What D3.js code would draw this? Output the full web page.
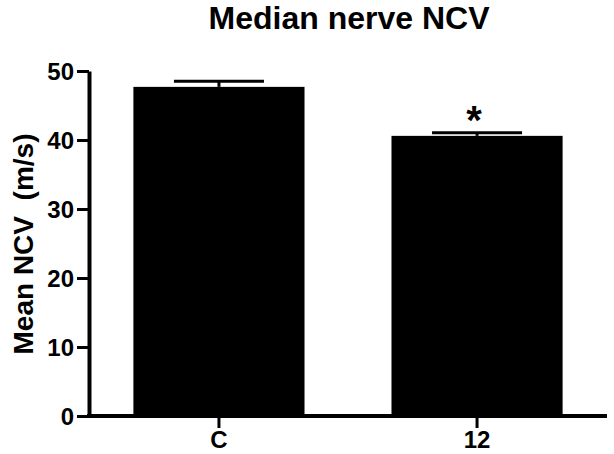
<!DOCTYPE html>
<html>
<head>
<meta charset="utf-8">
<script src="https://cdn.jsdelivr.net/npm/d3@7"></script>
<style>
	html, body { margin:0; padding:0; background:#ffffff; }
	svg { display:block; font-family:"Liberation Sans", Arial, sans-serif; }
</style>
</head>
<body>
<div id="chart"></div>
<script>
// Data
var categories = ['C', '12'];
var means = [47.7, 40.6];
var sems = [0.8, 0.45];
var significant = [false, true];
var yTicks = [0, 10, 20, 30, 40, 50];

var width = 614, height = 454;
var plotLeft = 89, plotRight = 607, plotTop = 71, plotBottom = 416;

var svg = d3.select('#chart')
	.append('svg')
	.attr('width', width)
	.attr('height', height);

var x = d3.scaleBand()
	.domain(categories)
	.range([plotLeft, plotRight])
	.paddingInner(0.337)
	.paddingOuter(0.172);

var y = d3.scaleLinear()
	.domain([0, 50])
	.range([plotBottom, plotTop]);

var rows = categories.map(function(c, i){
	return { cat: c, mean: means[i], sem: sems[i], sig: significant[i] };
});

// Bars
svg.append('g')
	.attr('class', 'bars')
	.selectAll('rect')
	.data(rows)
	.enter()
	.append('rect')
	.attr('x', function(d){ return x(d.cat); })
	.attr('y', function(d){ return y(d.mean); })
	.attr('width', x.bandwidth())
	.attr('height', function(d){ return y(0) - y(d.mean); })
	.attr('fill', '#000000');

// Error bars (upper only)
var capHalf = x.bandwidth() * 0.263;
var err = svg.append('g').attr('class', 'errors');
err.selectAll('line.stem')
	.data(rows)
	.enter()
	.append('line')
	.attr('class', 'stem')
	.attr('x1', function(d){ return x(d.cat) + x.bandwidth() / 2; })
	.attr('x2', function(d){ return x(d.cat) + x.bandwidth() / 2; })
	.attr('y1', function(d){ return y(d.mean); })
	.attr('y2', function(d){ return y(d.mean + d.sem); })
	.attr('stroke', '#000000')
	.attr('stroke-width', 3);
err.selectAll('line.cap')
	.data(rows)
	.enter()
	.append('line')
	.attr('class', 'cap')
	.attr('x1', function(d){ return x(d.cat) + x.bandwidth() / 2 - capHalf; })
	.attr('x2', function(d){ return x(d.cat) + x.bandwidth() / 2 + capHalf; })
	.attr('y1', function(d){ return y(d.mean + d.sem); })
	.attr('y2', function(d){ return y(d.mean + d.sem); })
	.attr('stroke', '#000000')
	.attr('stroke-width', 3);

// Significance marks
svg.append('g')
	.attr('class', 'stars')
	.selectAll('text')
	.data(rows.filter(function(d){ return d.sig; }))
	.enter()
	.append('text')
	.attr('x', function(d){ return x(d.cat) + x.bandwidth() / 2 - 3; })
	.attr('y', function(d){ return y(d.mean + d.sem) + 1; })
	.attr('text-anchor', 'middle')
	.attr('font-size', 40)
	.attr('font-weight', 'bold')
	.text('*');

// Axes
var yAxis = svg.append('g')
	.attr('transform', 'translate(' + plotLeft + ',0)')
	.call(d3.axisLeft(y).tickValues(yTicks).tickSize(12).tickSizeOuter(0).tickPadding(3));

var xAxis = svg.append('g')
	.attr('transform', 'translate(0,' + plotBottom + ')')
	.call(d3.axisBottom(x).tickSize(12).tickSizeOuter(0).tickPadding(4));

[yAxis, xAxis].forEach(function(a){
	a.select('.domain').attr('stroke', '#000000').attr('stroke-width', 4);
	a.selectAll('.tick line').attr('stroke', '#000000').attr('stroke-width', 3);
	a.selectAll('.tick text')
		.attr('fill', '#000000')
		.attr('font-size', 24)
		.attr('font-weight', 'bold')
		.attr('font-family', '"Liberation Sans", Arial, sans-serif');
});
yAxis.selectAll('.tick text').attr('dy', '0.36em');
xAxis.selectAll('.tick text').attr('dy', '0.66em');

// Extend x domain to meet the y axis
xAxis.select('.domain').attr('d', 'M' + (plotLeft - 2) + ',0H' + plotRight);

// Title
svg.append('text')
	.attr('x', 349)
	.attr('y', 29)
	.attr('text-anchor', 'middle')
	.attr('font-size', 32)
	.attr('font-weight', 'bold')
	.text('Median nerve NCV');

// Y axis label
svg.append('text')
	.attr('transform', 'translate(33,' + 244 + ') rotate(-90)')
	.attr('text-anchor', 'middle')
	.attr('font-size', 28)
	.attr('font-weight', 'bold')
	.attr('xml:space', 'preserve')
	.style('white-space', 'pre')
	.text('Mean NCV  (m/s)');
</script>
</body>
</html>
